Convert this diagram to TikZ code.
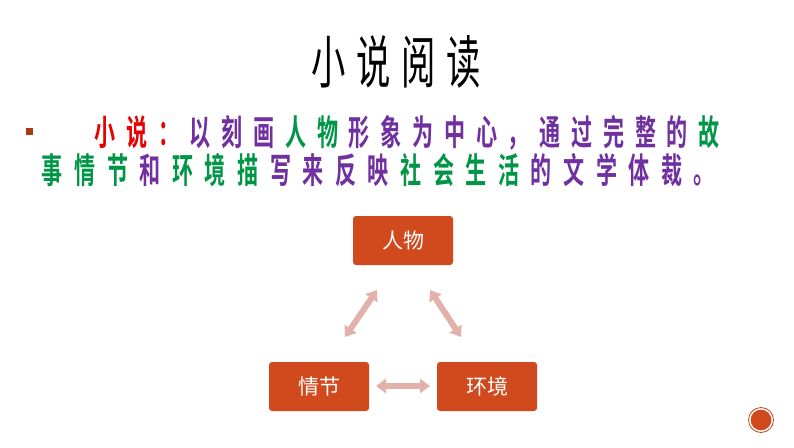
\documentclass[tikz,border=0pt]{standalone}
\usepackage{fontspec}
\usepackage{graphicx}
\usetikzlibrary{arrows.meta}
\newfontfamily\cjk{Noto Sans CJK SC}
\newfontfamily\cjkb{Noto Sans CJK SC Bold}
\definecolor{boxred}{RGB}{209,74,29}
\definecolor{arr}{RGB}{226,178,170}
\definecolor{tpurple}{RGB}{112,48,160}
\definecolor{tgreen}{RGB}{0,150,70}
\definecolor{tred}{RGB}{230,0,0}
\newlength\pitch
\def\spc#1{\ifx#1\relax\else\makebox[\pitch]{\scalebox{0.78}[1.3]{#1}}\expandafter\spc\fi}
\tikzset{
  box/.style={draw=none,fill=boxred,rounded corners=3pt,minimum width=100pt,minimum height=49pt,text=white,font=\cjk\fontsize{21}{24}\selectfont},
  dbl/.style={draw=arr,line width=6pt,{Triangle[length=10pt,width=14pt]}-{Triangle[length=10pt,width=14pt]}},
  line/.style={anchor=west,inner sep=0pt,font=\cjkb\fontsize{27}{32}\selectfont}
}
\begin{document}
\begin{tikzpicture}[x=1pt,y=-1pt]
\useasboundingbox[fill=white] (0,0) rectangle (794,447);
\node[inner sep=0pt,font=\cjk\fontsize{44}{46}\selectfont] (title) at (396,62) {\setlength\pitch{45pt}\spc 小说阅读\relax};
\node[fill=boxred!80!black,minimum size=7pt,inner sep=0pt] (bul) at (29,131) {};
\node[line] (l1) at (89,133) {\setlength\pitch{31.8pt}\textcolor{tred}{\spc 小说：\relax}\textcolor{tpurple}{\spc 以刻画\relax}\textcolor{tgreen}{\spc 人物\relax}\textcolor{tpurple}{\spc 形象为中心，通过完整的\relax}\textcolor{tgreen}{\spc 故\relax}};
\node[line] (l2) at (36,170) {\setlength\pitch{32.6pt}\textcolor{tgreen}{\spc 事情节\relax}\textcolor{tpurple}{\spc 和\relax}\textcolor{tgreen}{\spc 环境描\relax}\textcolor{tpurple}{\spc 写来反映\relax}\textcolor{tgreen}{\spc 社会生活\relax}\textcolor{tpurple}{\spc 的文学体裁。\relax}};
\node[box] (ren) at (403,240.5) {人物};
\node[box] (qing) at (319,386.5) {情节};
\node[box] (huan) at (487,386.5) {环境};
\coordinate (a1) at (377,290); \coordinate (a2) at (345,337);
\coordinate (b1) at (430,290); \coordinate (b2) at (461,337);
\coordinate (c1) at (376,386); \coordinate (c2) at (430,386);
\draw[dbl] (a1) -- (a2);
\draw[dbl] (b1) -- (b2);
\draw[dbl] (c1) -- (c2);
\node[circle,fill=boxred,draw=white,line width=1pt,minimum size=22pt,inner sep=0pt] (dot) at (761,420) {};
\draw[boxred!90!black,line width=0.8pt] (dot) circle (12.5pt);
\end{tikzpicture}
\end{document}
